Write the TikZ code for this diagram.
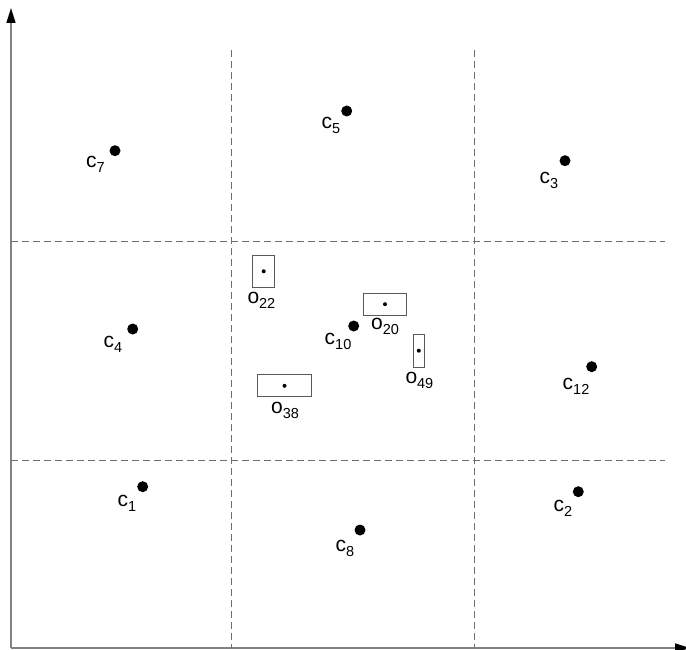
\documentclass[tikz,border=0pt]{standalone}
\usepackage{fontspec}
\setmainfont{Liberation Sans}
\usepackage{tikz}
\usetikzlibrary{arrows.meta,positioning}
\definecolor{axisGray} {RGB}{130,130,130}
\definecolor{gridGray} {RGB}{110,110,110}
\definecolor{boxGray}  {RGB}{90, 90, 90}
\newcommand{\sublbl}[2]{#1\raisebox{-5pt}{\fontsize{14.5}{15}\selectfont #2}}

\begin{document}
\begin{tikzpicture}[x=1pt,y=-1pt,
    cdot/.style={circle,fill=black,inner sep=0pt,minimum size=11pt},
    odot/.style={circle,fill=black,inner sep=0pt,minimum size=4pt},
    obox/.style={draw=boxGray,line width=0.8pt,inner sep=0pt},
    lbl/.style={anchor=north west,inner sep=0pt,font=\fontsize{21}{24}\selectfont},
    grid/.style={gridGray,line width=0.9pt,dash pattern=on 7pt off 4pt}]
        \useasboundingbox (0,0) rectangle (686,650);
        % Eixos
        \coordinate (origin) at (11,648);
        \coordinate (ytip) at (11,8);
        \coordinate (xtip) at (690,648);
        \draw[axisGray,line width=1.6pt,
              -{Triangle[length=15pt,width=9pt,color=black]}] (origin)--(ytip);
        \draw[axisGray,line width=1.6pt,
              -{Triangle[length=15pt,width=9pt,color=black]}] (origin)--(xtip);

        % Grade tracejada
        \draw[grid] (231,50)--(231,648);
        \draw[grid] (474,50)--(474,648);
        \draw[grid] (11,241)--(665,241);
        \draw[grid] (11,460)--(665,460);

        % Centros
        \foreach \n/\x/\y/\lx/\ly in {7/115/150.7/86/156, 5/346.7/111/321.5/117.5,
            3/565/160.7/539.5/172.5, 4/132.7/329/103.5/336, 10/353.7/326/324.5/333.3,
            12/591.7/366.7/562.5/378.3, 1/142.7/486.7/117.5/495,
            2/578.3/491.7/553.5/500, 8/360/530/335.5/540}{
          \node[cdot] (c\n) at (\x,\y) {};
          \node[lbl] (c\n-lbl) at (\lx,\ly) {\sublbl{c}{\n}};
        }

        % Objetos
        \foreach \n/\x/\y/\w/\h/\lx/\ly in {22/263.7/271.3/22/32/247.3/291.7,
            20/385/304.2/43/22/371/318, 49/418.8/350.7/11/33/405.3/371.7,
            38/284.5/385.8/54/22/271/401.7}{
          \node[obox,minimum width=\w pt,minimum height=\h pt] (o\n) at (\x,\y) {};
          \node[odot] (o\n-dot) at (o\n.center) {};
          \node[lbl] (o\n-lbl) at (\lx,\ly) {\sublbl{o}{\n}};
        }
      \end{tikzpicture}
\end{document}
